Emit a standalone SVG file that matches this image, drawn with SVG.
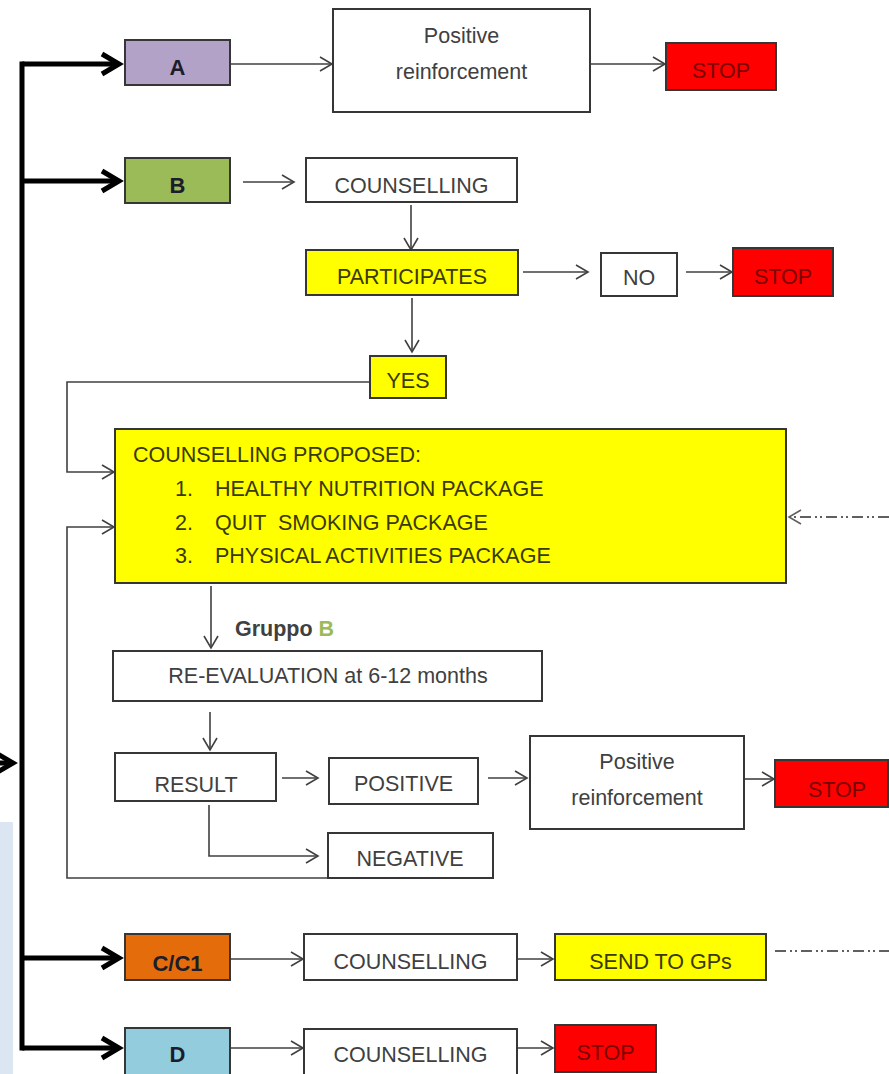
<svg xmlns="http://www.w3.org/2000/svg" width="889" height="1074" viewBox="0 0 889 1074">
<style>
.box{stroke:#363636;stroke-width:2}
.w{fill:#fff}
.y{fill:#ffff00}
.r{fill:#ff0000}
.t{font-family:"Liberation Sans",Arial,sans-serif;font-size:21.5px;fill:#404040;text-anchor:middle}
.ty{fill:#3a3a00}
.tr{fill:#7a0000}
.b{font-weight:bold;fill:#1c1c2a;font-size:22px}
.l{text-anchor:start}
.c{fill:none;stroke:#404040;stroke-width:1.6}
.thick{fill:none;stroke:#000;stroke-width:5}
.dash{fill:none;stroke:#606060;stroke-width:1.8;stroke-dasharray:11 4 2 3 2 4}
</style>
<defs>
<marker id="ah" markerUnits="userSpaceOnUse" markerWidth="16" markerHeight="16" refX="12" refY="7" orient="auto" overflow="visible">
<path d="M0,0 L12,7 L0,14" fill="none" stroke="#404040" stroke-width="1.6"/>
</marker>
<marker id="ahg" markerUnits="userSpaceOnUse" markerWidth="16" markerHeight="16" refX="12" refY="7" orient="auto" overflow="visible">
<path d="M0,0 L12,7 L0,14" fill="none" stroke="#606060" stroke-width="1.6"/>
</marker>
<marker id="tah" markerUnits="userSpaceOnUse" markerWidth="24" markerHeight="24" refX="17" refY="10" orient="auto" overflow="visible">
<path d="M0,0 L17,10 L0,20" fill="none" stroke="#000" stroke-width="5"/>
</marker>
</defs>
<rect x="0" y="822" width="13" height="252" fill="#dce6f2"/>

<g id="connectors">
<path class="thick" d="M22,61.5 V1050.5"/>
<path class="thick" d="M22,64 H119" marker-end="url(#tah)"/>
<path class="thick" d="M22,181 H119" marker-end="url(#tah)"/>
<path class="thick" d="M22,958 H119" marker-end="url(#tah)"/>
<path class="thick" d="M22,1048 H119" marker-end="url(#tah)"/>
<path class="thick" d="M-10,763 H13" marker-end="url(#tah)"/>
<path class="c" d="M231,64 H332" marker-end="url(#ah)"/>
<path class="c" d="M590,64 H665" marker-end="url(#ah)"/>
<path class="c" d="M243,182 H294" marker-end="url(#ah)"/>
<path class="c" d="M411,205 V250" marker-end="url(#ah)"/>
<path class="c" d="M523,272 H588" marker-end="url(#ah)"/>
<path class="c" d="M686,272 H732" marker-end="url(#ah)"/>
<path class="c" d="M412,298 V352" marker-end="url(#ah)"/>
<path class="c" d="M370,382 H67 V472 H114" marker-end="url(#ah)"/>
<path class="c" d="M330,878 H67 V527 H114" marker-end="url(#ah)"/>
<path class="dash" d="M889,517 H789" marker-end="url(#ahg)"/>
<path class="c" d="M211,586 V648" marker-end="url(#ah)"/>
<path class="c" d="M210,712 V750" marker-end="url(#ah)"/>
<path class="c" d="M282,778 H318" marker-end="url(#ah)"/>
<path class="c" d="M488,778 H527" marker-end="url(#ah)"/>
<path class="c" d="M744,779 H774" marker-end="url(#ah)"/>
<path class="c" d="M209,805 V856 H318" marker-end="url(#ah)"/>
<path class="c" d="M231,959 H303" marker-end="url(#ah)"/>
<path class="c" d="M517,959 H553" marker-end="url(#ah)"/>
<path class="dash" d="M775,951 H889"/>
<path class="c" d="M231,1048 H303" marker-end="url(#ah)"/>
<path class="c" d="M517,1048 H553" marker-end="url(#ah)"/>
</g>

<g id="A"><rect class="box" x="125" y="40" width="105" height="45" fill="#b3a2c7"/><text class="t b" x="177.5" y="75">A</text></g>
<g id="pr1"><rect class="box w" x="333" y="9" width="257" height="103"/><text class="t" x="461.5" y="43" font-size="25">Positive</text><text class="t" x="461.5" y="79" font-size="25">reinforcement</text></g>
<g id="stop1"><rect class="box r" x="666" y="43" width="110" height="47"/><text class="t tr" x="721" y="78">STOP</text></g>

<g id="B"><rect class="box" x="125" y="158" width="105" height="45" fill="#9bbb59"/><text class="t b" x="177.5" y="193">B</text></g>
<g id="couns1"><rect class="box w" x="306" y="158" width="211" height="44"/><text class="t" x="411.5" y="193">COUNSELLING</text></g>
<g id="participates"><rect class="box y" x="306" y="250" width="212" height="45"/><text class="t ty" x="412" y="284">PARTICIPATES</text></g>
<g id="no"><rect class="box w" x="601" y="253" width="76" height="43"/><text class="t" x="639" y="285">NO</text></g>
<g id="stop2"><rect class="box r" x="733" y="248" width="100" height="48"/><text class="t tr" x="783" y="284">STOP</text></g>
<g id="yes"><rect class="box y" x="370" y="356" width="76" height="42"/><text class="t ty" x="408" y="388">YES</text></g>

<g id="proposed"><rect class="box y" x="115" y="429" width="671" height="154"/>
<text class="t ty l" x="133" y="462" font-size="21.5">COUNSELLING PROPOSED:</text>
<text class="t ty l" x="175" y="496" font-size="19.5">1.</text><text class="t ty l" x="215" y="496" font-size="19.5">HEALTHY NUTRITION PACKAGE</text>
<text class="t ty l" x="175" y="530" font-size="19.5">2.</text><text class="t ty l" x="215" y="530" font-size="19.5" xml:space="preserve">QUIT  SMOKING PACKAGE</text>
<text class="t ty l" x="175" y="563" font-size="19.5">3.</text><text class="t ty l" x="215" y="563" font-size="19.5">PHYSICAL ACTIVITIES PACKAGE</text>
</g>
<g id="gruppo"><text class="t l" x="235" y="636" font-size="18.5" font-weight="bold" fill="#262626">Gruppo <tspan fill="#9bbb59">B</tspan></text></g>
<g id="reeval"><rect class="box w" x="113" y="651" width="429" height="50"/><text class="t" x="328" y="683" font-size="22.5">RE-EVALUATION at 6-12 months</text></g>
<g id="result"><rect class="box w" x="115" y="753" width="161" height="48"/><text class="t" x="196" y="792" font-size="25">RESULT</text></g>
<g id="positive"><rect class="box w" x="329" y="758" width="149" height="46"/><text class="t" x="403.5" y="791" font-size="21">POSITIVE</text></g>
<g id="pr2"><rect class="box w" x="530" y="736" width="214" height="93"/><text class="t" x="637" y="769" font-size="25">Positive</text><text class="t" x="637" y="805" font-size="25">reinforcement</text></g>
<g id="stop3"><rect class="box r" x="775" y="760" width="113" height="47"/><text class="t tr" x="837" y="797">STOP</text></g>
<g id="negative"><rect class="box w" x="328" y="833" width="165" height="45"/><text class="t" x="410" y="866" font-size="21">NEGATIVE</text></g>

<g id="C"><rect class="box" x="125" y="934" width="105" height="46" fill="#e46c0a"/><text class="t b" x="177.5" y="971">C/C1</text></g>
<g id="couns2"><rect class="box w" x="304" y="934" width="213" height="46"/><text class="t" x="410.5" y="969">COUNSELLING</text></g>
<g id="sendgp"><rect class="box y" x="555" y="934" width="211" height="46"/><text class="t ty" x="660.5" y="969">SEND TO GPs</text></g>

<g id="D"><rect class="box" x="125" y="1028" width="105" height="50" fill="#93cddd"/><text class="t b" x="177.5" y="1062">D</text></g>
<g id="couns3"><rect class="box w" x="304" y="1029" width="213" height="50"/><text class="t" x="410.5" y="1062">COUNSELLING</text></g>
<g id="stop4"><rect class="box r" x="555" y="1025" width="101" height="47"/><text class="t tr" x="605.5" y="1060">STOP</text></g>
</svg>
